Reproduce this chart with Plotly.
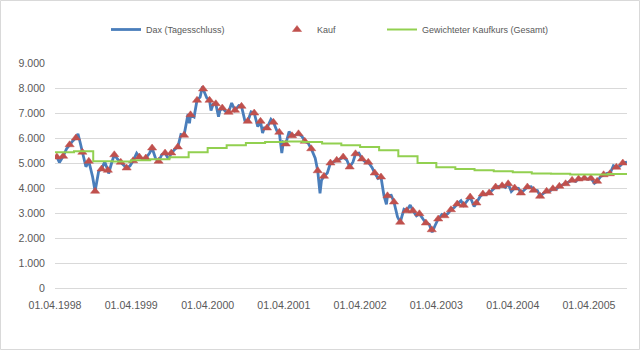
import pandas as pd
import plotly.graph_objects as go

# ---------------- data ----------------
# Monthly purchases ("Kauf"), about the 10th of each month, Apr 1998 .. Sep 2005
kauf_start = "1998-04-10"
kauf_values = [
    5240, 5270, 5730, 6000, 5430, 5070, 3870, 4760, 4710,                    # 1998 Apr-Dec
    5330, 5030, 4800, 5090, 5240, 5200, 5600, 5070, 5400, 5400, 5640, 6110,  # 1999
    6930, 7510, 7960, 7510, 7370, 7200, 7030, 7110, 7270, 6670, 7000, 6670,  # 2000
    6400, 6630, 6230, 5760, 6090, 6170, 5870, 5570, 4690, 4470, 5000, 5110,  # 2001
    5240, 4840, 5370, 5160, 5030, 4600, 4440, 3690, 3440, 2630, 3090, 3090,  # 2002
    2970, 2600, 2330, 2760, 2890, 3130, 3360, 3310, 3640, 3400, 3760, 3800,  # 2003
    4040, 4090, 4170, 4000, 3800, 4040, 3910, 3670, 3870, 3970, 4070, 4170,  # 2004
    4310, 4360, 4390, 4390, 4270, 4530, 4570, 4830, 5000,                    # 2005 Jan-Sep
]

# Additional daily closes of the DAX read between the purchase dates
dax_extra_dates = [
    "1998-04-01", "1998-04-22", "1998-05-26", "1998-06-25", "1998-07-20", "1998-07-29",
    "1998-08-27", "1998-09-28", "1998-10-27", "1998-11-25", "1998-12-14", "1998-12-28",
    "1999-01-26", "1999-02-24", "1999-03-26", "1999-04-27", "1999-05-26", "1999-06-28",
    "1999-07-27", "1999-08-26", "1999-09-27", "1999-10-26", "1999-11-25", "1999-12-29",
    "2000-01-05", "2000-01-27", "2000-02-25", "2000-03-07", "2000-03-28", "2000-04-17",
    "2000-04-27", "2000-05-23", "2000-05-30", "2000-06-27", "2000-07-25", "2000-08-28",
    "2000-09-26", "2000-10-26", "2000-11-27", "2000-12-20", "2000-12-28",
    "2001-01-29", "2001-02-26", "2001-03-22", "2001-03-29", "2001-04-26", "2001-05-28",
    "2001-06-27", "2001-07-26", "2001-08-29", "2001-09-21", "2001-09-28", "2001-10-26",
    "2001-11-27", "2001-12-27",
    "2002-01-28", "2002-02-26", "2002-03-26", "2002-04-26", "2002-05-28", "2002-06-26",
    "2002-07-24", "2002-08-05", "2002-08-28", "2002-09-27", "2002-10-28", "2002-11-27",
    "2002-12-27",
    "2003-01-28", "2003-02-26", "2003-03-12", "2003-03-26", "2003-04-28", "2003-05-27",
    "2003-06-26", "2003-07-28", "2003-08-27", "2003-09-29", "2003-10-28", "2003-11-26",
    "2003-12-29",
    "2004-01-28", "2004-02-26", "2004-03-25", "2004-04-28", "2004-05-26", "2004-06-28",
    "2004-07-28", "2004-08-26", "2004-09-28", "2004-10-27", "2004-11-26", "2004-12-29",
    "2005-01-27", "2005-02-25", "2005-03-29", "2005-04-27", "2005-05-27", "2005-06-28",
    "2005-07-27", "2005-08-26", "2005-09-30",
]
dax_extra_values = [
    5250, 5020, 5560, 5880, 6170, 5870,
    4850, 4450, 4670, 5050, 4580, 5000,
    5150, 4900, 4880, 5390, 5150, 5400,
    5170, 5340, 5150, 5540, 6140, 6960,
    6590, 6840, 7640, 8060, 7600, 7100,
    7350, 6850, 7100, 7050, 7400, 7300,
    6700, 7050, 6450, 6200, 6400,
    6750, 6300, 5400, 5830, 6260, 6120,
    6060, 5800, 5190, 3790, 4310, 4600,
    5050, 5160,
    5110, 5040, 5400, 5040, 4820, 4380,
    3700, 3350, 3710, 2850, 3150, 3320,
    2890,
    2750, 2550, 2230, 2500, 2940, 2980,
    3220, 3490, 3490, 3260, 3660, 3750,
    3970,
    4060, 4020, 3860, 3990, 3920, 4050,
    3900, 3790, 3890, 3960, 4130, 4260,
    4260, 4350, 4350, 4190, 4460, 4590,
    4890, 4870, 5040,
]

# Weighted purchase price (step line), value from each quarter start
avg_dates = [
    "1998-04-01", "1998-07-01", "1998-10-01", "1999-01-01", "1999-04-01", "1999-07-01",
    "1999-10-01", "2000-01-01", "2000-04-01", "2000-07-01", "2000-10-01", "2001-01-01",
    "2001-04-01", "2001-07-01", "2001-10-01", "2002-01-01", "2002-04-01", "2002-07-01",
    "2002-10-01", "2003-01-01", "2003-04-01", "2003-07-01", "2003-10-01", "2004-01-01",
    "2004-04-01", "2004-07-01", "2004-10-01", "2005-01-01", "2005-04-01", "2005-07-01",
    "2005-09-30",
]
avg_values = [
    5430, 5470, 5070, 5060, 5110, 5150,
    5230, 5430, 5600, 5710, 5800, 5840,
    5860, 5840, 5780, 5710, 5640, 5510,
    5270, 5000, 4830, 4760, 4710, 4670,
    4630, 4580, 4570, 4540, 4540, 4560,
    4560,
]

tick_years = [1998, 1999, 2000, 2001, 2002, 2003, 2004, 2005]

# ---------------- build series ----------------
kauf_dates = pd.date_range(kauf_start, periods=len(kauf_values), freq=pd.DateOffset(months=1))
kauf = pd.Series(kauf_values, index=kauf_dates)
extra = pd.Series(dax_extra_values, index=pd.to_datetime(dax_extra_dates))
dax = pd.concat([kauf, extra]).sort_index()

FONT = "Liberation Sans, Arial, sans-serif"
GREY = "#595959"

fig = go.Figure()
fig.add_trace(go.Scatter(
    x=dax.index, y=dax.values, mode="lines", name="Dax (Tagesschluss)",
    line=dict(color="#4A7EBB", width=2.8), legend="legend",
))
fig.add_trace(go.Scatter(
    x=kauf.index, y=kauf.values, mode="markers", name="Kauf",
    marker=dict(symbol="triangle-up", size=8, color="#C0504D",
                line=dict(width=0.5, color="#C0504D")),
    legend="legend2",
))
fig.add_trace(go.Scatter(
    x=pd.to_datetime(avg_dates), y=avg_values, mode="lines",
    name="Gewichteter Kaufkurs (Gesamt)", line=dict(color="#92D050", width=2, shape="hv"),
    legend="legend3",
))

tickvals = [f"{y}-04-01" for y in tick_years]
ticktext = [f"01.04.{y}" for y in tick_years]

L, R, T, B = 55, 13, 63, 62
W, H = 640, 350
pw, ph = W - L - R, H - T - B

legend_common = dict(
    xref="container", yref="container", orientation="h",
    xanchor="left", yanchor="middle", y=1 - 29.5 / H,
    font=dict(family=FONT, size=9, color=GREY), bgcolor="rgba(0,0,0,0)",
    borderwidth=0,
)

fig.update_layout(
    width=W, height=H,
    margin=dict(l=L, r=R, t=T, b=B, pad=0),
    paper_bgcolor="white", plot_bgcolor="white",
    separators=",.",
    font=dict(family=FONT, color=GREY),
    showlegend=True,
    legend=dict(legend_common, x=106 / W),
    legend2=dict(legend_common, x=277 / W),
    legend3=dict(legend_common, x=382 / W),
    xaxis=dict(
        type="date", range=["1998-04-01", "2005-09-30"],
        tickvals=tickvals, ticktext=ticktext, showgrid=False, zeroline=False,
        showline=False, ticks="", tickfont=dict(family=FONT, size=10.6, color=GREY),
        ticklabelstandoff=9,
    ),
    yaxis=dict(
        range=[0, 9000], dtick=1000, tick0=0, tickformat=",",
        showgrid=True, gridcolor="#D9D9D9", gridwidth=1,
        zeroline=True, zerolinecolor="#D9D9D9", zerolinewidth=1,
        showline=False, ticks="", tickfont=dict(family=FONT, size=10.6, color=GREY),
        ticklabelstandoff=9,
    ),
)

# thin grey chart border around the whole picture
fig.add_shape(
    type="rect", xref="paper", yref="paper",
    x0=(0.5 - L) / pw, x1=(W - 0.5 - L) / pw,
    y0=-(B - 0.5) / ph, y1=(ph + T - 0.5) / ph,
    line=dict(color="#D9D9D9", width=1), fillcolor="rgba(0,0,0,0)", layer="below",
)

fig.write_html("out.html")
